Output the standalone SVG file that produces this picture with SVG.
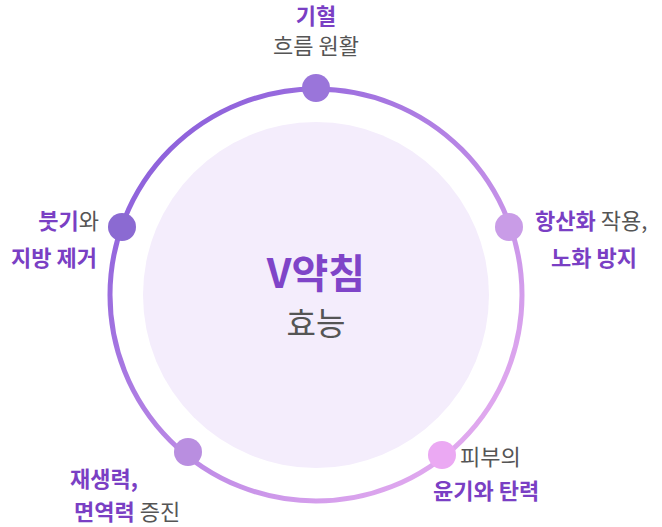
<svg xmlns="http://www.w3.org/2000/svg" width="662" height="527" viewBox="0 0 662 527">
<style>
text{font-family:"Noto Sans CJK KR","Noto Sans",sans-serif;font-size:22px}
.b{font-weight:700;fill:#7a3fc4}
.n{fill:#555}
</style>
<defs>
<linearGradient id="g" x1="0" y1="0" x2="1" y2="1">
<stop offset="0" stop-color="#7f55d8"/><stop offset="1" stop-color="#f0b6f2"/>
</linearGradient>
</defs>
<rect width="662" height="527" fill="#fff"/>
<g id="center">
<circle cx="316" cy="295" r="173" fill="#f4edfc"/>
<text x="316" y="288" text-anchor="middle" class="b" style="font-size:40px;fill:#7f44c8">V약침</text>
<text x="316" y="335" text-anchor="middle" class="n" style="font-size:32px">효능</text>
</g>
<g id="connectors">
<circle cx="316" cy="295" r="206" fill="none" stroke="url(#g)" stroke-width="5"/>
</g>
<g id="n1"><circle cx="316" cy="88" r="14" fill="#9a75da"/>
<text x="316" y="24" text-anchor="middle" class="b">기혈</text>
<text x="316" y="54" text-anchor="middle" class="n">흐름 원활</text></g>
<g id="n2"><circle cx="509" cy="227" r="14" fill="#c99ce7"/>
<text x="535" y="229" class="b">항산화 <tspan class="n" style="font-weight:400">작용,</tspan></text>
<text x="551" y="266" class="b">노화 방지</text></g>
<g id="n3"><circle cx="442" cy="455" r="14" fill="#eba9f3"/>
<text x="460" y="465" class="n">피부의</text>
<text x="433" y="499" class="b">윤기와 탄력</text></g>
<g id="n4"><circle cx="188" cy="452" r="14" fill="#b98ee0"/>
<text x="70" y="487" class="b">재생력,</text>
<text x="74" y="520" class="b">면역력 <tspan class="n" style="font-weight:400">증진</tspan></text></g>
<g id="n5"><circle cx="122" cy="227" r="14" fill="#8b6ad2"/>
<text x="99" y="229" text-anchor="end" class="b">붓기<tspan class="n" style="font-weight:400">와</tspan></text>
<text x="97" y="266" text-anchor="end" class="b">지방 제거</text></g>
</svg>
